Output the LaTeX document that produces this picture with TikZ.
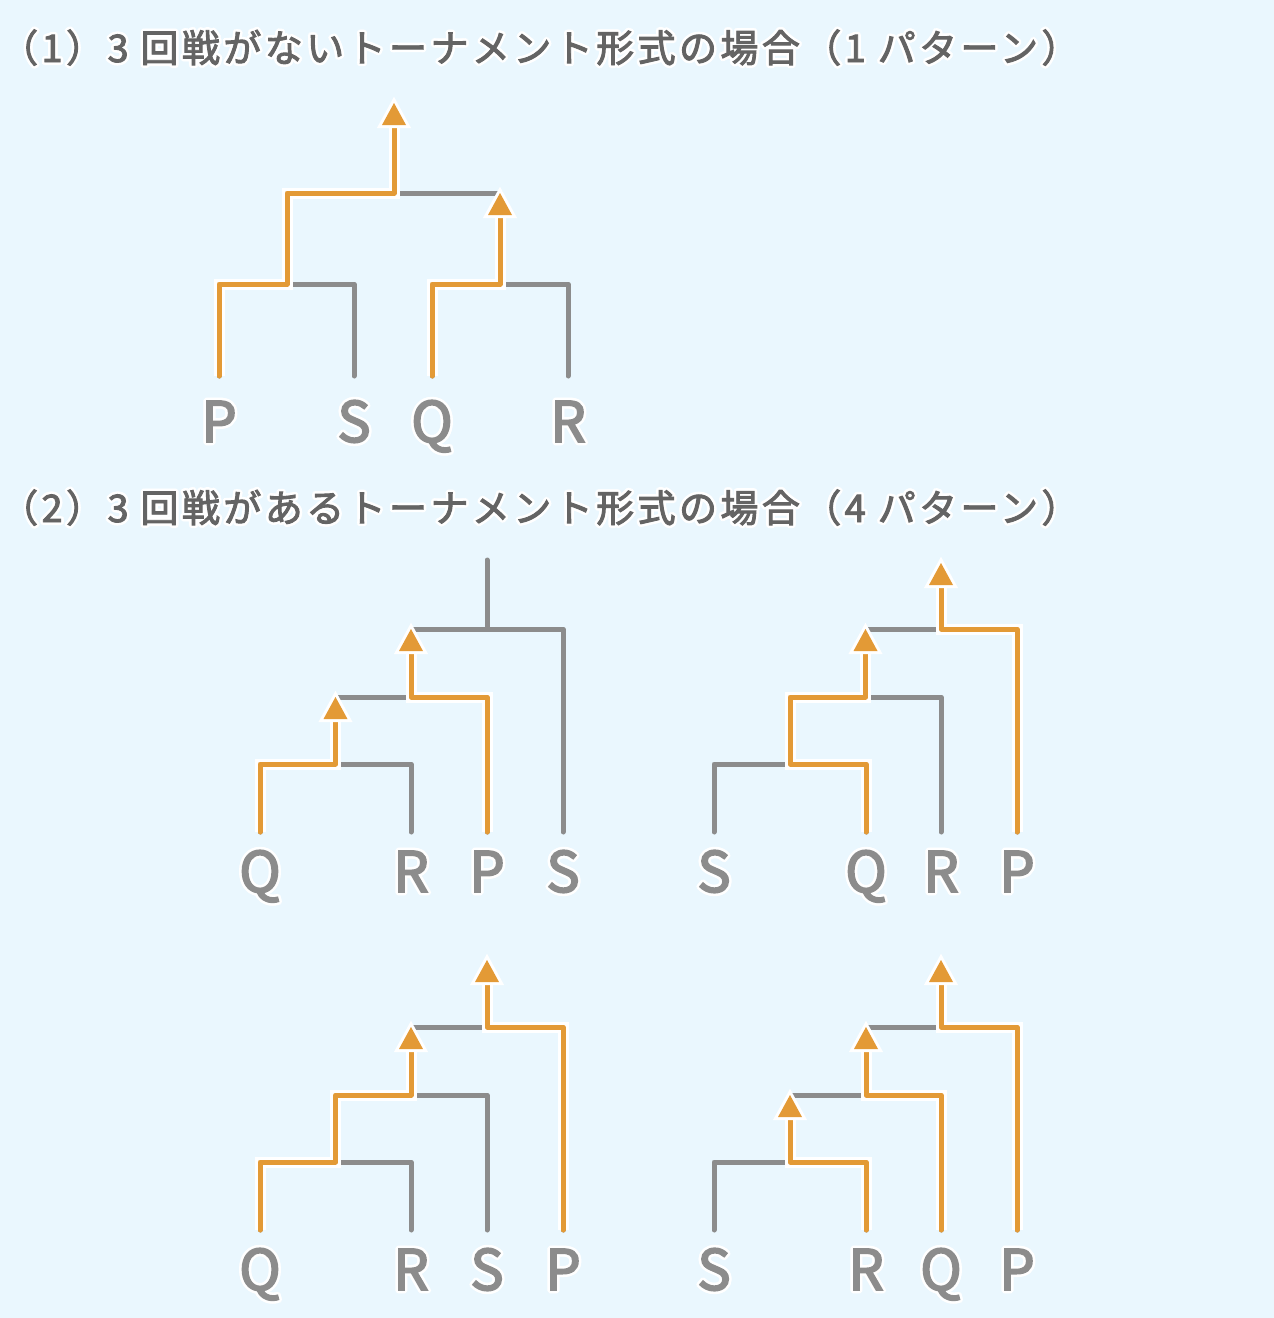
\documentclass[tikz,border=0pt]{standalone}
\usepackage{fontspec}
\setmainfont{Noto Sans CJK JP}[FakeBold=3]
\newfontfamily\ttlfont{Noto Sans CJK JP}[LetterSpace=9, FakeBold=2.5]
\usetikzlibrary{calc}
\definecolor{bgblue}{HTML}{EAF7FE}
\definecolor{wingold}{HTML}{E39A36}
\definecolor{losegray}{HTML}{8C8C8C}
\definecolor{titlegray}{HTML}{646464}
\newcommand\halo[1]{\leavevmode\foreach \ha in {0,30,...,330}{\rlap{\color{white}\hspace*{\fpeval{2.6*cosd(\ha)}pt}\raisebox{\fpeval{2.6*sind(\ha)}pt}{#1}}}#1}
\begin{document}
\begin{tikzpicture}[x=1pt,y=-1pt,
    gline/.style={draw=losegray, line width=5pt, line cap=round, line join=round},
    oline/.style={draw=wingold, line width=5pt, line cap=round, line join=round,
      preaction={draw=white, line width=11pt}},
    lbl/.style={anchor=base, inner sep=0pt, text=losegray, font=\fontsize{56}{56}\selectfont},
    ttl/.style={anchor=base west, inner sep=0pt, text=titlegray, font=\ttlfont\fontsize{38}{38}\selectfont},
    wintip/.pic={\fill[wingold, preaction={draw=white, line width=6pt, line join=miter}]
      (0,0) -- (-12,22) -- (12,22) -- cycle;}]
    \useasboundingbox (0,0) rectangle (1274,1318);
    \fill[bgblue] (0,0) rectangle (1274,1318);

    \node[ttl] (t1) at (0,62) {\halo{（1）3 回戦がないトーナメント形式の場合（1 パターン）}};
    \node[ttl] (t2) at (0,522) {\halo{（2）3 回戦があるトーナメント形式の場合（4 パターン）}};

    \foreach \n/\x/\t in {pA/219/P, sA/354/S, qA/432/Q, rA/568/R}{
      \coordinate (\n) at (\x,376);
      \node[lbl] (l\n) at (\x,442) {\halo{\t}};}
    \foreach \n/\x/\t in {qB/260/Q, rB/411/R, pB/487/P, sB/563/S,
                          sC/714/S, qC/866/Q, rC/941/R, pC/1017/P}{
      \coordinate (\n) at (\x,832);
      \node[lbl] (l\n) at (\x,892) {\halo{\t}};}
    \foreach \n/\x/\t in {qD/260/Q, rD/411/R, sD/487/S, pD/563/P,
                          sE/714/S, rE/866/R, qE/941/Q, pE/1017/P}{
      \coordinate (\n) at (\x,1230);
      \node[lbl] (l\n) at (\x,1290) {\halo{\t}};}

    \coordinate (a1) at (287,284);
    \coordinate (a2) at (500,284);
    \coordinate (a3) at (394,193);
    \coordinate (aQ) at (a2 |- a3);
    \coordinate (aT) at (394,103);
    \draw[gline] (pA) |- (a1) -| (sA);
    \draw[gline] (qA) |- (a2) -| (rA);
    \draw[gline] (a1) |- (a3) -| (a2);
    \draw[oline] (pA) |- (a1) |- (a3) -- ([yshift=-14pt]aT);
    \draw[oline] (qA) |- (a2) -- ([yshift=-14pt]aQ);
    \pic at (aT) {wintip};
    \pic at (aQ) {wintip};

    \coordinate (b1) at (335.5,764);
    \coordinate (b2) at (411,697);
    \coordinate (b3) at (487,629);
    \coordinate (bQ) at (b1 |- b2);
    \coordinate (bP) at (b2 |- b3);
    \coordinate (bT) at (487,560);
    \draw[gline] (qB) |- (b1) -| (rB);
    \draw[gline] (b1) |- (b2) -| (pB);
    \draw[gline] (b2) |- (b3) -| (sB);
    \draw[gline] (b3) -- (bT);
    \draw[oline] (qB) |- (b1) -- ([yshift=-14pt]bQ);
    \draw[oline] (pB) |- (b2) -- ([yshift=-14pt]bP);
    \pic at (bQ) {wintip};
    \pic at (bP) {wintip};

    \coordinate (c1) at (790,764);
    \coordinate (c2) at (865.5,697);
    \coordinate (c3) at (941,629);
    \coordinate (cQ) at (c2 |- c3);
    \coordinate (cT) at (941,563);
    \draw[gline] (sC) |- (c1) -| (qC);
    \draw[gline] (c1) |- (c2) -| (rC);
    \draw[gline] (c2) |- (c3) -| (pC);
    \draw[oline] (qC) |- (c1) |- (c2) -- ([yshift=-14pt]cQ);
    \draw[oline] (pC) |- (c3) -- ([yshift=-14pt]cT);
    \pic at (cQ) {wintip};
    \pic at (cT) {wintip};

    \coordinate (d1) at (335.5,1162);
    \coordinate (d2) at (411,1095);
    \coordinate (d3) at (487,1027);
    \coordinate (dQ) at (d2 |- d3);
    \coordinate (dT) at (487,960);
    \draw[gline] (qD) |- (d1) -| (rD);
    \draw[gline] (d1) |- (d2) -| (sD);
    \draw[gline] (d2) |- (d3) -| (pD);
    \draw[oline] (qD) |- (d1) |- (d2) -- ([yshift=-14pt]dQ);
    \draw[oline] (pD) |- (d3) -- ([yshift=-14pt]dT);
    \pic at (dQ) {wintip};
    \pic at (dT) {wintip};

    \coordinate (e1) at (790,1162);
    \coordinate (e2) at (866,1095);
    \coordinate (e3) at (941,1027);
    \coordinate (eR) at (e1 |- e2);
    \coordinate (eQ) at (e2 |- e3);
    \coordinate (eT) at (941,960);
    \draw[gline] (sE) |- (e1) -| (rE);
    \draw[gline] (e1) |- (e2) -| (qE);
    \draw[gline] (e2) |- (e3) -| (pE);
    \draw[oline] (rE) |- (e1) -- ([yshift=-14pt]eR);
    \draw[oline] (qE) |- (e2) -- ([yshift=-14pt]eQ);
    \draw[oline] (pE) |- (e3) -- ([yshift=-14pt]eT);
    \pic at (eR) {wintip};
    \pic at (eQ) {wintip};
    \pic at (eT) {wintip};
\end{tikzpicture}
\end{document}
